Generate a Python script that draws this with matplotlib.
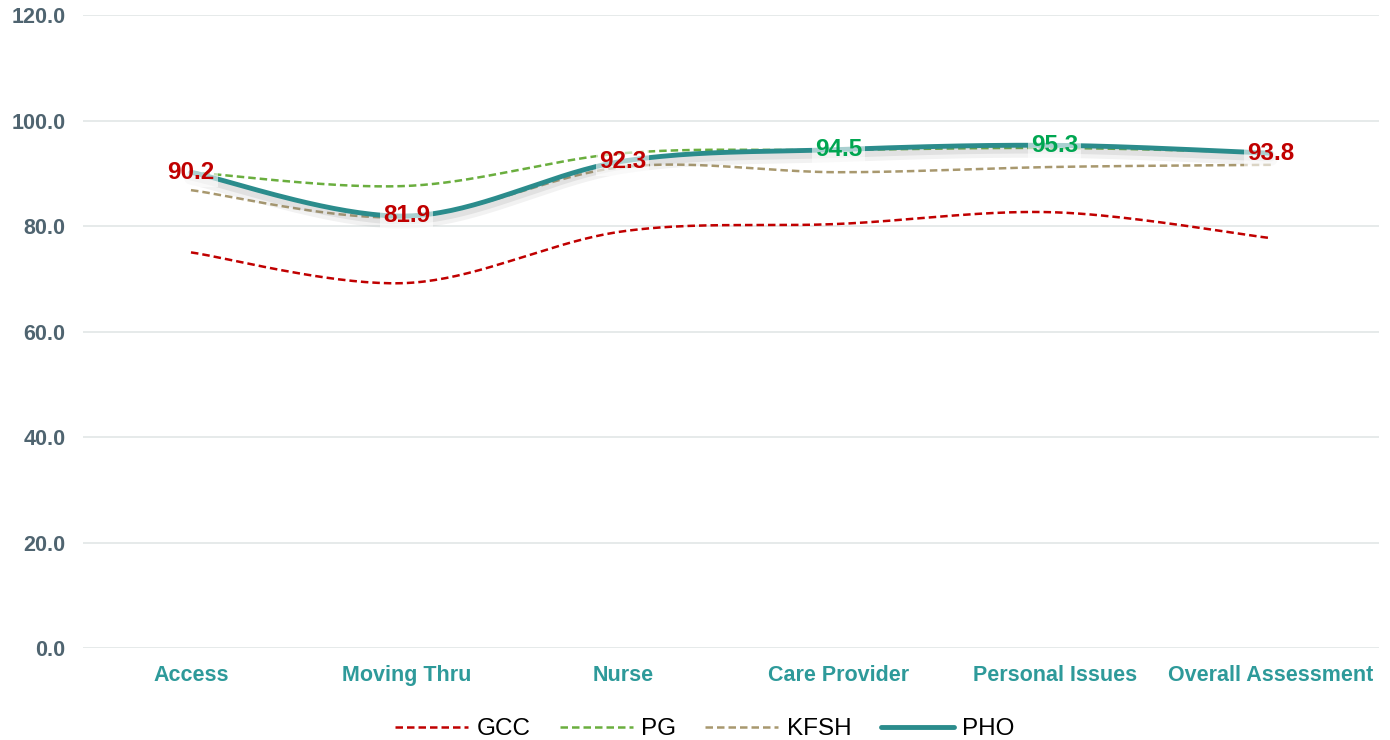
import numpy as np
import matplotlib
matplotlib.use('Agg')
from matplotlib import pyplot as plt
from matplotlib import patheffects as pe
from matplotlib.lines import Line2D

# 数据
categories = ['Access', 'Moving Thru', 'Nurse', 'Care Provider', 'Personal Issues', 'Overall Assessment']
gcc = [75.0, 69.2, 79.0, 80.4, 82.6, 77.7]
pg = [90.2, 87.6, 93.8, 94.4, 94.8, 93.9]
kfsh = [86.8, 81.7, 91.2, 90.2, 91.2, 91.6]
pho = [90.2, 81.9, 92.3, 94.5, 95.3, 93.8]
label_colors = ['#C00000', '#C00000', '#C00000', '#00A651', '#00A651', '#C00000']
yticks = [0, 20, 40, 60, 80, 100, 120]


# 平滑曲线: 分段三次贝塞尔(类似Excel的平滑线)
def smooth(x, y, n=40):
    x = np.asarray(x, float)
    y = np.asarray(y, float)
    px = np.concatenate([[x[0]], x, [x[-1]]])
    py = np.concatenate([[y[0]], y, [y[-1]]])
    xs, ys = [], []
    t = np.linspace(0, 1, n)
    for i in range(1, len(px) - 2):
        p0 = np.array([px[i], py[i]])
        p3 = np.array([px[i + 1], py[i + 1]])
        p1 = p0 + (np.array([px[i + 1], py[i + 1]]) - np.array([px[i - 1], py[i - 1]])) / 6
        p2 = p3 - (np.array([px[i + 2], py[i + 2]]) - np.array([px[i], py[i]])) / 6
        b = ((1 - t) ** 3)[:, None] * p0 + (3 * (1 - t) ** 2 * t)[:, None] * p1 \
            + (3 * (1 - t) * t ** 2)[:, None] * p2 + (t ** 3)[:, None] * p3
        xs.extend(b[:, 0])
        ys.extend(b[:, 1])
    return np.array(xs), np.array(ys)


plt.rcParams['font.family'] = ['Liberation Sans', 'DejaVu Sans']

fig = plt.figure(figsize=(13.9, 7.4), dpi=100)
ax = fig.add_axes([0.0597, 0.1243, 0.9323, 0.8554])

x = np.arange(len(categories))
dash = (0, (3, 1.6))
styles = [('GCC', gcc, '#C00000'), ('PG', pg, '#6AAE3E'), ('KFSH', kfsh, '#A8986E')]

handles = []
for name, vals, c in styles:
    sx, sy = smooth(x, vals)
    ax.plot(sx, sy, color=c, lw=1.8, linestyle=dash, zorder=3)
    handles.append(Line2D([], [], color=c, lw=1.8, linestyle=dash, label=name))

sx, sy = smooth(x, pho)
ax.plot(sx, sy, color='#2B8C8C', lw=3.5, solid_capstyle='round', zorder=4,
        path_effects=[pe.SimpleLineShadow(offset=(0, -4), shadow_color='#808080', alpha=0.1, linewidth=10),
                      pe.SimpleLineShadow(offset=(0, -3), shadow_color='#808080', alpha=0.15, linewidth=6),
                      pe.Normal()])
handles.append(Line2D([], [], color='#2B8C8C', lw=3.5, solid_capstyle='round', label='PHO'))

# 数据标签
for i, v in enumerate(pho):
    ax.text(x[i], v, '%.1f' % v, ha='center', va='center', fontsize=17.5, fontweight='bold',
            color=label_colors[i], zorder=6,
            bbox=dict(boxstyle='square,pad=0.12', fc='white', ec='none', alpha=0.6))

ax.set_xlim(-0.5, 5.5)
ax.set_ylim(0, 120)
ax.set_yticks(yticks)
ax.set_yticklabels(['%.1f' % v for v in yticks], fontsize=15.5, fontweight='bold', color='#4F6470')
ax.set_xticks(x)
ax.set_xticklabels(categories, fontsize=15.5, fontweight='bold', color='#2E9A9A')
ax.tick_params(axis='both', length=0)
ax.tick_params(axis='y', pad=12.5)
ax.tick_params(axis='x', pad=12)
ax.grid(axis='y', color='#E2E6E6', lw=1.2)
ax.set_axisbelow(True)
for s in ax.spines.values():
    s.set_visible(False)

fig.legend(handles=handles, loc='lower center', bbox_to_anchor=(0.507, -0.03), ncol=4,
           frameon=False, fontsize=17.5, handlelength=3.0, columnspacing=1.2, handletextpad=0.35)

plt.savefig('out.png', dpi=100)
